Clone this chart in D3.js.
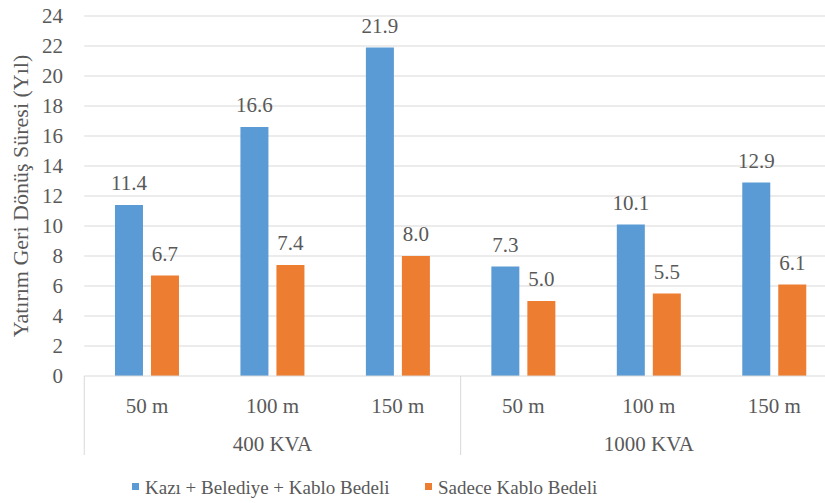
<!DOCTYPE html>
<html>
<head>
<meta charset="utf-8">
<script src="https://cdn.jsdelivr.net/npm/d3@7/dist/d3.min.js"></script>
<style>
  html, body { margin: 0; padding: 0; background: #fff; }
  svg { display: block; }
  text { fill: #595959; }
</style>
</head>
<body>
<svg id="chart" width="825" height="503" font-family="'Liberation Serif', 'Times New Roman', Tinos, 'DejaVu Serif', 'Noto Serif', serif"></svg>
<script>
// Payback period per transformer size and cable length
const groups = ["400 KVA", "1000 KVA"];
const lengths = ["50 m", "100 m", "150 m"];
const seriesNames = ["Kazı + Belediye + Kablo Bedeli", "Sadece Kablo Bedeli"];
const kaziValues = [11.4, 16.6, 21.9, 7.3, 10.1, 12.9];
const kabloValues = [6.7, 7.4, 8.0, 5.0, 5.5, 6.1];
const yTicks = [0, 2, 4, 6, 8, 10, 12, 14, 16, 18, 20, 22, 24];
const colors = ["#5b9bd5", "#ed7d31"];

(function draw() {
  const svg = d3.select("#chart");
  const W = 825;
  const plotLeft = 84.25, plotRight = 837, plotTop = 16, plotBottom = 376;

  // one slot per (group, length) pair
  const cats = [];
  groups.forEach(g => lengths.forEach(l => cats.push(g + "|" + l)));

  const x = d3.scaleBand().domain(cats).range([plotLeft, plotRight]).padding(0);
  const y = d3.scaleLinear().domain([0, 24]).range([plotBottom, plotTop]);
  const barW = 28, gap = 8;

  // gridlines
  svg.append("g").selectAll("line").data(yTicks.filter(t => t > 0)).join("line")
    .attr("x1", plotLeft).attr("x2", W).attr("y1", d => y(d)).attr("y2", d => y(d))
    .attr("stroke", "#d9d9d9").attr("stroke-width", 1);

  // y tick labels
  svg.append("g").selectAll("text").data(yTicks).join("text")
    .attr("x", 63).attr("y", d => y(d)).attr("dy", "0.35em")
    .attr("text-anchor", "end").attr("font-size", 21)
    .text(d => d);

  // y title
  svg.append("text")
    .attr("transform", `translate(28,${(plotTop + plotBottom) / 2}) rotate(-90)`)
    .attr("text-anchor", "middle").attr("font-size", 22)
    .text("Yatırım Geri Dönüş Süresi (Yıl)");

  // bars and value labels
  const series = [kaziValues, kabloValues];
  const offsets = [x.bandwidth() / 2 - gap / 2 - barW, x.bandwidth() / 2 + gap / 2];
  series.forEach((vals, si) => {
    const g = svg.append("g");
    g.selectAll("rect").data(vals).join("rect")
      .attr("x", (d, i) => x(cats[i]) + offsets[si])
      .attr("y", d => y(d))
      .attr("width", barW)
      .attr("height", d => y(0) - y(d))
      .attr("fill", colors[si]);
    g.selectAll("text").data(vals).join("text")
      .attr("x", (d, i) => x(cats[i]) + offsets[si] + barW / 2)
      .attr("y", d => y(d) - 15)
      .attr("text-anchor", "middle").attr("font-size", 21)
      .text(d => d.toFixed(1));
  });

  // category axis: baseline, separators, labels
  svg.append("line").attr("x1", plotLeft).attr("x2", W).attr("y1", plotBottom).attr("y2", plotBottom)
    .attr("stroke", "#d9d9d9").attr("stroke-width", 1);
  const sepX = [plotLeft, x(cats[3]), plotRight];
  svg.append("g").selectAll("line").data(sepX).join("line")
    .attr("x1", d => d).attr("x2", d => d).attr("y1", plotBottom).attr("y2", 455)
    .attr("stroke", "#d9d9d9").attr("stroke-width", 1);

  svg.append("g").selectAll("text").data(cats).join("text")
    .attr("x", d => x(d) + x.bandwidth() / 2).attr("y", 413)
    .attr("text-anchor", "middle").attr("font-size", 21)
    .text(d => d.split("|")[1]);

  svg.append("g").selectAll("text").data(groups).join("text")
    .attr("x", (g, gi) => (x(cats[gi * 3]) + x(cats[gi * 3 + 2]) + x.bandwidth()) / 2)
    .attr("y", 451)
    .attr("text-anchor", "middle").attr("font-size", 21)
    .text(d => d);

  // legend
  const legendX = [132, 425];
  const lg = svg.append("g").selectAll("g").data(seriesNames).join("g")
    .attr("transform", (d, i) => `translate(${legendX[i]},0)`);
  lg.append("rect").attr("x", 0).attr("y", 483).attr("width", 7).attr("height", 7)
    .attr("fill", (d, i) => colors[i]);
  lg.append("text").attr("x", 13).attr("y", 494).attr("font-size", 19).text(d => d);
})();
</script>
</body>
</html>
